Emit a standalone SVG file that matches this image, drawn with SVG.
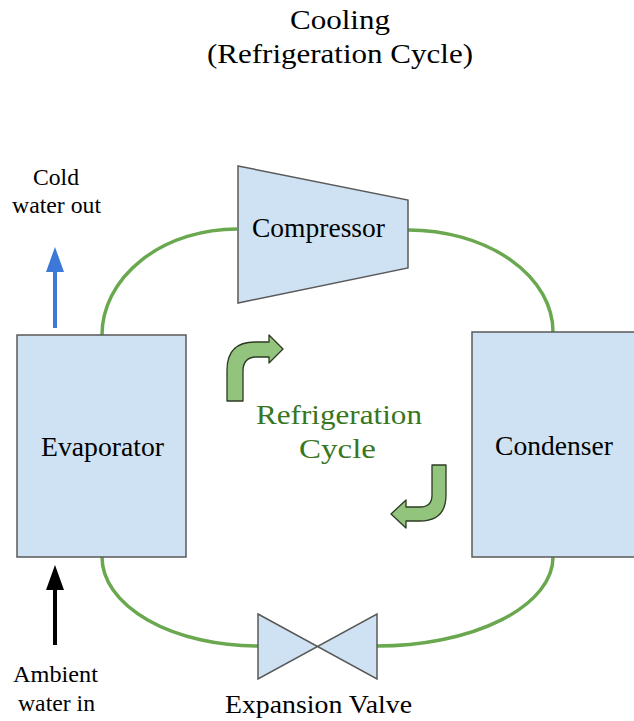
<svg xmlns="http://www.w3.org/2000/svg" width="634" height="721" viewBox="0 0 634 721">
<style>
.box{fill:#cfe2f3;stroke:#595959;stroke-width:1.5}
.pipe{fill:none;stroke:#6aa84f;stroke-width:3.5}
.t{font-family:"Liberation Serif","Times New Roman",serif;fill:#000;text-anchor:middle}
.g{fill:#38761d}
.ca{fill:#93c47d;stroke:#2b3a22;stroke-width:1.3;stroke-linejoin:round}
</style>
<rect width="634" height="721" fill="#fff"/>
<g id="title">
<text class="t" x="340" y="29" font-size="28" textLength="100" lengthAdjust="spacingAndGlyphs">Cooling</text>
<text class="t" x="340" y="63" font-size="28" textLength="266" lengthAdjust="spacingAndGlyphs">(Refrigeration Cycle)</text>
</g>
<g id="connectors">
<path class="pipe" d="M102,335 A135,106 0 0 1 237,229"/>
<path class="pipe" d="M408,230 A145,102 0 0 1 553,332"/>
<path class="pipe" d="M102,557 A156,89 0 0 0 258,646"/>
<path class="pipe" d="M377,646 A176,89 0 0 0 553,557"/>
<g id="cold-out-arrow">
<line x1="55" y1="328" x2="55" y2="270" stroke="#3c78d8" stroke-width="4"/>
<polygon points="55,247 64,272 46,272" fill="#3c78d8"/>
</g>
<g id="ambient-in-arrow">
<line x1="55" y1="645" x2="55" y2="588" stroke="#000" stroke-width="4"/>
<polygon points="55,565 64,590 46,590" fill="#000"/>
</g>
</g>
<g id="compressor">
<polygon class="box" points="238,166 408,200 408,268 238,303"/>
<text class="t" x="318.5" y="237" font-size="27" textLength="133" lengthAdjust="spacingAndGlyphs">Compressor</text>
</g>
<g id="evaporator">
<rect class="box" x="17" y="335" width="169" height="222"/>
<text class="t" x="102.5" y="456" font-size="27" textLength="123" lengthAdjust="spacingAndGlyphs">Evaporator</text>
</g>
<g id="condenser">
<rect class="box" x="472" y="332" width="164" height="225"/>
<text class="t" x="554" y="455" font-size="27" textLength="118" lengthAdjust="spacingAndGlyphs">Condenser</text>
</g>
<g id="expansion-valve">
<polygon class="box" points="258,614 377,679 377,614 258,679"/>
<text class="t" x="318.5" y="713" font-size="26" textLength="187" lengthAdjust="spacingAndGlyphs">Expansion Valve</text>
</g>
<g id="cycle">
<path class="ca" d="M227,401 L227,370 Q227,342 255,342 L269,342 L269,335 L283,349 L269,363 L269,357 L257,357 Q243,357 243,371 L243,401 Z"/>
<path class="ca" d="M432,465 L446,465 L446,495 Q446,521 420,521 L406,521 L406,528 L391,514 L406,500 L406,507 L420,507 Q432,507 432,495 Z"/>
<text class="t g" x="339" y="424" font-size="28" textLength="166" lengthAdjust="spacingAndGlyphs">Refrigeration</text>
<text class="t g" x="337.5" y="458" font-size="28" textLength="77" lengthAdjust="spacingAndGlyphs">Cycle</text>
</g>
<g id="labels">
<text class="t" x="56" y="185" font-size="23" textLength="46" lengthAdjust="spacingAndGlyphs">Cold</text>
<text class="t" x="56.5" y="213" font-size="23" textLength="89" lengthAdjust="spacingAndGlyphs">water out</text>
<text class="t" x="55.5" y="682" font-size="23" textLength="85" lengthAdjust="spacingAndGlyphs">Ambient</text>
<text class="t" x="56.5" y="711" font-size="23" textLength="77" lengthAdjust="spacingAndGlyphs">water in</text>
</g>
</svg>
